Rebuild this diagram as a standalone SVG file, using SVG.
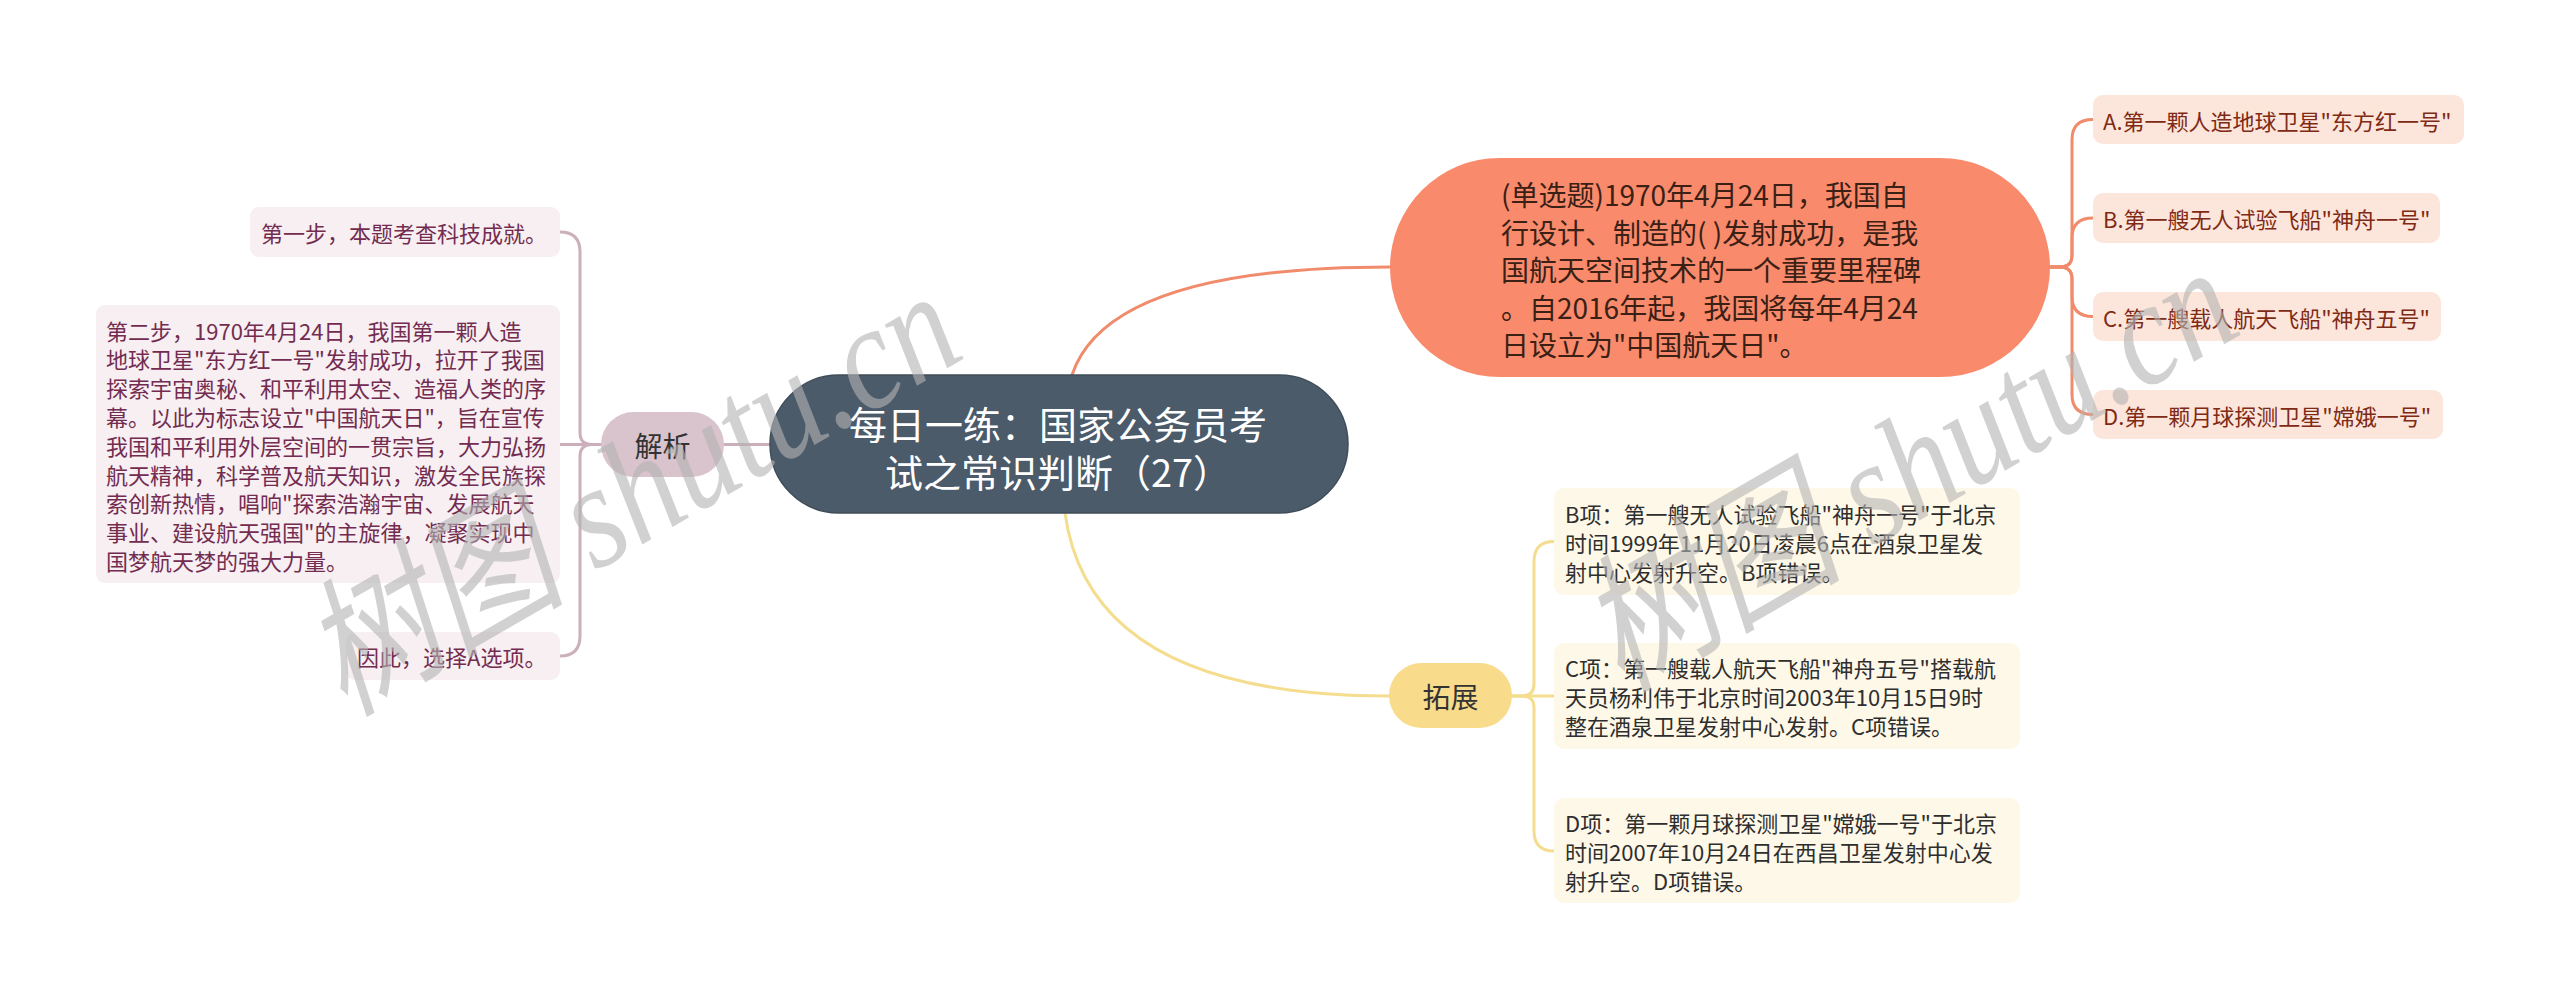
<svg xmlns="http://www.w3.org/2000/svg" width="2560" height="1000" viewBox="0 0 2560 1000">
<style>
text{font-family:"Noto Sans CJK SC","Noto Sans",sans-serif;dominant-baseline:central}
.conn{fill:none;stroke-width:3;stroke-linecap:round}
.c-or{stroke:#F08B6C}
.c-ye{stroke:#F4DD8E}
.c-mv{stroke:#CBB0BC}
.root{fill:#4B5B6A;stroke:#3F4D5A;stroke-width:1.5}
.root-t{fill:#FFFFFF;font-size:38px;text-anchor:middle}
.q{fill:#F98A6B}
.q-t{fill:#3A2015;font-size:28px}
.opt{fill:#FCE5DB}
.opt-t{fill:#7E2A14;font-size:22px}
.jx{fill:#D9C3CD}
.tz{fill:#F8DB8B}
.lbl{fill:#333333;font-size:28px;text-anchor:middle}
.lb{fill:#F7EFF2}
.lb-t{fill:#732C50;font-size:22px}
.ex{fill:#FEF8E8}
.ex-t{fill:#2E2E2E;font-size:22px}
.wm{font-family:"Liberation Serif","Noto Sans CJK SC",serif;font-style:italic;font-size:150px;fill:#B4B4B4;opacity:0.6;dominant-baseline:alphabetic}
</style>
<rect width="2560" height="1000" fill="#FFFFFF"/>
<g id="connectors">
<path class="conn c-or" d="M1072,375 Q1108,267 1390,267"/>
<path class="conn c-ye" d="M1065,513 Q1090,696 1389,696"/>
<path class="conn c-mv" d="M770,444.5 H724"/>
<path class="conn c-or" d="M2050,267 H2060 Q2072,267 2072,255 V139.5 Q2072,119.5 2093,119.5"/>
<path class="conn c-or" d="M2050,267 H2060 Q2072,267 2072,255 V238 Q2072,218 2093,218"/>
<path class="conn c-or" d="M2050,267 H2060 Q2072,267 2072,279 V296.5 Q2072,316.5 2093,316.5"/>
<path class="conn c-or" d="M2050,267 H2060 Q2072,267 2072,279 V394.5 Q2072,414.5 2093,414.5"/>
<path class="conn c-ye" d="M1512,696 H1522 Q1534,696 1534,684 V561.5 Q1534,541.5 1554,541.5"/>
<path class="conn c-ye" d="M1512,696 H1554"/>
<path class="conn c-ye" d="M1512,696 H1522 Q1534,696 1534,708 V831 Q1534,851 1554,851"/>
<path class="conn c-mv" d="M601,444.5 H592 Q580,444.5 580,432.5 V252 Q580,232 560,232"/>
<path class="conn c-mv" d="M601,444.5 H560"/>
<path class="conn c-mv" d="M601,444.5 H592 Q580,444.5 580,456.5 V636 Q580,656 560,656"/>
</g>
<g id="root">
<rect class="root" x="770" y="375" width="578" height="138" rx="69"/>
<text class="root-t" x="1058" y="422">每日一练：国家公务员考</text>
<text class="root-t" x="1058" y="470">试之常识判断（27）</text>
</g>
<g id="question">
<rect class="q" x="1390" y="158" width="660" height="219" rx="109.5"/>
<text class="q-t" x="1501" y="194">(单选题)1970年4月24日，我国自</text>
<text class="q-t" x="1501" y="231.5">行设计、制造的( )发射成功，是我</text>
<text class="q-t" x="1501" y="269">国航天空间技术的一个重要里程碑</text>
<text class="q-t" x="1501" y="306.5">。自2016年起，我国将每年4月24</text>
<text class="q-t" x="1501" y="344">日设立为"中国航天日"。</text>
</g>
<g id="optA">
<rect class="opt" x="2093" y="95" width="371" height="49" rx="10"/>
<text class="opt-t" x="2103" y="119.5">A.第一颗人造地球卫星"东方红一号"</text>
</g>
<g id="optB">
<rect class="opt" x="2093" y="193" width="347" height="50" rx="10"/>
<text class="opt-t" x="2103" y="218">B.第一艘无人试验飞船"神舟一号"</text>
</g>
<g id="optC">
<rect class="opt" x="2093" y="292" width="348" height="49" rx="10"/>
<text class="opt-t" x="2103" y="316.5">C.第一艘载人航天飞船"神舟五号"</text>
</g>
<g id="optD">
<rect class="opt" x="2093" y="390" width="350" height="49" rx="10"/>
<text class="opt-t" x="2103" y="414.5">D.第一颗月球探测卫星"嫦娥一号"</text>
</g>
<g id="jiexi">
<rect class="jx" x="601" y="412" width="123" height="65" rx="32.5"/>
<text class="lbl" x="662.5" y="444.5">解析</text>
</g>
<g id="step1">
<rect class="lb" x="250" y="207" width="310" height="50" rx="9"/>
<text class="lb-t" x="261" y="232">第一步，本题考查科技成就。</text>
</g>
<g id="step2">
<rect class="lb" x="96" y="305" width="464" height="278" rx="9"/>
<text class="lb-t" x="106" y="329.5">第二步，1970年4月24日，我国第一颗人造</text>
<text class="lb-t" x="106" y="358.3">地球卫星"东方红一号"发射成功，拉开了我国</text>
<text class="lb-t" x="106" y="387.1">探索宇宙奥秘、和平利用太空、造福人类的序</text>
<text class="lb-t" x="106" y="415.9">幕。以此为标志设立"中国航天日"，旨在宣传</text>
<text class="lb-t" x="106" y="444.7">我国和平利用外层空间的一贯宗旨，大力弘扬</text>
<text class="lb-t" x="106" y="473.5">航天精神，科学普及航天知识，激发全民族探</text>
<text class="lb-t" x="106" y="502.3">索创新热情，唱响"探索浩瀚宇宙、发展航天</text>
<text class="lb-t" x="106" y="531.1">事业、建设航天强国"的主旋律，凝聚实现中</text>
<text class="lb-t" x="106" y="559.9">国梦航天梦的强大力量。</text>
</g>
<g id="step3">
<rect class="lb" x="346" y="632" width="214" height="48" rx="9"/>
<text class="lb-t" x="357" y="656">因此，选择A选项。</text>
</g>
<g id="tuozhan">
<rect class="tz" x="1389" y="663" width="123" height="65" rx="32.5"/>
<text class="lbl" x="1450.5" y="695.5">拓展</text>
</g>
<g id="exB">
<rect class="ex" x="1554" y="488" width="466" height="107" rx="10"/>
<text class="ex-t" x="1565" y="512.5">B项：第一艘无人试验飞船"神舟一号"于北京</text>
<text class="ex-t" x="1565" y="541.5">时间1999年11月20日凌晨6点在酒泉卫星发</text>
<text class="ex-t" x="1565" y="570.5">射中心发射升空。B项错误。</text>
</g>
<g id="exC">
<rect class="ex" x="1554" y="643" width="466" height="106" rx="10"/>
<text class="ex-t" x="1565" y="667">C项：第一艘载人航天飞船"神舟五号"搭载航</text>
<text class="ex-t" x="1565" y="696">天员杨利伟于北京时间2003年10月15日9时</text>
<text class="ex-t" x="1565" y="725">整在酒泉卫星发射中心发射。C项错误。</text>
</g>
<g id="exD">
<rect class="ex" x="1554" y="798" width="466" height="105" rx="10"/>
<text class="ex-t" x="1565" y="821.5">D项：第一颗月球探测卫星"嫦娥一号"于北京</text>
<text class="ex-t" x="1565" y="850.5">时间2007年10月24日在西昌卫星发射中心发</text>
<text class="ex-t" x="1565" y="879.5">射升空。D项错误。</text>
</g>
<g id="watermarks">
<text class="wm" transform="translate(345,716) rotate(-30)" textLength="720" lengthAdjust="spacingAndGlyphs">树图 shutu.cn</text>
<text class="wm" transform="translate(1622,692) rotate(-30)" textLength="720" lengthAdjust="spacingAndGlyphs">树图 shutu.cn</text>
</g>
</svg>
